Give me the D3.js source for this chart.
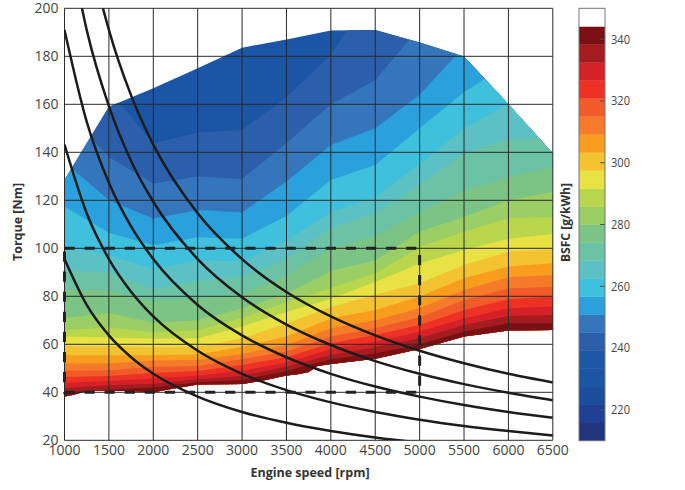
<!DOCTYPE html>
<html>
<head>
<meta charset="utf-8">
<title>BSFC map</title>
<script src="https://cdnjs.cloudflare.com/ajax/libs/d3/7.8.5/d3.min.js"></script>
<style>
  html, body { margin: 0; padding: 0; background: #fff; }
  svg { display: block; }
  .axis-num text { font-family: "Open Sans", sans-serif; font-size: 14px; fill: #444; }
  .bar-num text { font-family: "Open Sans", sans-serif; font-size: 13.5px; fill: #444; }
  .axis-title { font-family: "Open Sans", sans-serif; font-size: 12.5px; font-weight: 700; fill: #333; }
</style>
</head>
<body>
<div id="chart"></div>
<script>
// columns the isolines are read at
var rpmColumns = [1000, 1500, 2000, 2500, 3000, 3500, 4000, 4500, 5000, 5500, 6000, 6500];

// torque at which each colour boundary sits, lowest bsfc first.
// values above the envelope just get clipped away
var iso1 = [200, 166, 143.7, 148.3, 149.3, 163, 180.6, 209, 230, 240, 250, 260];
var iso2 = [158, 138, 127, 129.9, 128.9, 143.8, 160, 170, 192, 215, 235, 250];
var iso3 = [136, 120, 112.4, 116, 115, 127.8, 143, 150, 164, 184, 210, 230];
var iso4 = [117.3, 106.5, 101.3, 104.6, 104, 113.5, 128.5, 134.7, 150, 165, 177, 200];
var iso5 = [101, 97, 91.5, 95, 94.5, 103.3, 115, 121.5, 135, 150, 160, 175];
var iso6 = [91, 90, 83, 86.5, 88, 95.7, 108.5, 114.6, 126.4, 139.6, 145.4, 146];
var iso7 = [83, 82.5, 78.3, 79, 81, 88.7, 100, 105, 115, 124, 129.7, 134];
var iso8 = [71, 73, 69, 70, 75, 81, 90.5, 95, 107, 113, 120, 123.6];
var iso9 = [66, 67, 65, 66, 71, 77.5, 83.5, 89.6, 100.5, 107, 112.5, 113];
var iso10 = [63.3, 62.8, 62.4, 62.5, 67.4, 73.5, 79, 86, 93.7, 99.3, 104, 106];
var iso11 = [59.3, 59.2, 58.9, 59, 62.5, 68.7, 75.5, 80.6, 85.4, 93, 98.6, 99.6];
var iso12 = [55.4, 55.4, 55.4, 55.8, 59, 63.2, 70.8, 74.3, 79.9, 87.5, 92.4, 93.8];
var iso13 = [52, 52, 53.3, 53.5, 56, 59.7, 66.7, 70, 75, 82.6, 87.9, 88.9];
var iso14 = [49, 49.2, 50.6, 51, 53.8, 57, 63.2, 66.7, 71.3, 78.5, 83.3, 84];
var iso15 = [46.4, 46.8, 48, 48.9, 51.4, 54.6, 60.4, 63.9, 68, 74.3, 78.8, 79.9];
var iso16 = [43.9, 44.7, 45.7, 47, 49, 52.4, 57.9, 61, 65.3, 70.8, 75, 75.7];
var iso17 = [41.8, 42.9, 43.6, 45.4, 46.8, 50.7, 55.5, 58.8, 62.5, 68, 71.8, 72.2];
var iso18 = [39.9, 41.2, 42, 44.2, 45.1, 48.9, 53.8, 56.2, 60, 65.3, 68.8, 68.8];
var isolines = [iso1, iso2, iso3, iso4, iso5, iso6, iso7, iso8, iso9, iso10, iso11, iso12, iso13, iso14, iso15, iso16, iso17, iso18];

// colours of the map, one more than there are isolines
var mapColors = ['#1b55a5', '#2b5fab', '#3575bb', '#2aa0dc', '#3fc0dc', '#5cc1c4', '#6cc2a5', '#7cc486',
  '#9bce65', '#b9d64d', '#e8e245', '#f3c332', '#f99d1f', '#f57b2a', '#f15a29', '#ee3124', '#d42027', '#a51c20', '#7a1014'];

// full load and low load edge of the map
var topRpm = [1000, 1500, 2000, 2500, 3000, 3500, 4000, 4500, 5000, 5500, 6000, 6500];
var topTorque = [128.5, 159, 166.7, 175, 183.6, 187, 190.7, 191, 185.8, 179.9, 160, 139.6];
var lowRpm = [6500, 6000, 5500, 5000, 4500, 4000, 3850, 3750, 3625, 3500, 3250, 3000, 2500, 2230, 2000, 1750, 1500, 1250, 1100, 1000];
var lowTorque = [66, 65.7, 63.2, 58, 54, 51.8, 51, 48.5, 47.5, 47, 45, 43.5, 43.3, 41.6, 40, 40.5, 40.8, 40.5, 39, 38.3];

// constant power lines
var curveRpm = [1000, 1250, 1500, 1750, 2000, 2500, 3000, 3500, 4000, 4500, 5000, 5500, 6000, 6500];
var power10 = [95.5, 76.4, 63.7, 54.6, 47.7, 38.2, 31.8, 27.3, 23.9, 21.2, 19.1, 17.4, 15.9, 14.7];
var power15 = [143.2, 114.6, 95.5, 81.9, 71.6, 57.3, 47.7, 40.9, 35.8, 31.8, 28.6, 26, 23.9, 22];
var power20 = [191, 152.8, 127.3, 109.1, 95.5, 76.4, 63.7, 54.6, 47.7, 42.4, 38.2, 34.7, 31.8, 29.4];
var power25 = [238.7, 191, 159.2, 136.4, 119.4, 95.5, 79.6, 68.2, 59.7, 53, 47.7, 43.4, 39.8, 36.7];
var power30 = [286.5, 229.2, 191, 163.7, 143.2, 114.6, 95.5, 81.8, 71.6, 63.7, 57.3, 52.1, 47.7, 44.1];
var powerCurves = [power10, power15, power20, power25, power30];

// dashed box
var boxRpm = [1000, 5000, 5000, 1000, 1000];
var boxTorque = [100, 100, 40, 40, 100];

var xTicks = [1000, 1500, 2000, 2500, 3000, 3500, 4000, 4500, 5000, 5500, 6000, 6500];
var yTicks = [20, 40, 60, 80, 100, 120, 140, 160, 180, 200];
var barTicks = [220, 240, 260, 280, 300, 320, 340];

// colour bar, bottom to top, last band is white
var barColors = ['#23357f', '#1f3f92', '#1c4d9d', '#1a56a4', '#1d58a6', '#2b5fab', '#3575bb', '#2aa0dc', '#3fc0dc',
  '#5cc1c4', '#6cc2a5', '#7cc486', '#9bce65', '#b9d64d', '#e8e245', '#f3c332', '#f99d1f', '#f57b2a', '#f15a29',
  '#ee3124', '#d42027', '#a51c20', '#7a1014', '#ffffff'];

var width = 685, height = 490;

var svg = d3.select('#chart')
  .append('svg')
  .attr('width', width)
  .attr('height', height);

var x = d3.scaleLinear().domain([1000, 6500]).range([64.5, 552.8]);
var y = d3.scaleLinear().domain([20, 200]).range([440.3, 8.3]);

var defs = svg.append('defs');

// envelope of the map
var envelope = topRpm.map(function(d, i){ return [d, topTorque[i]]; })
  .concat(lowRpm.map(function(d, i){ return [d, lowTorque[i]]; }));
var edgeLine = d3.line()
  .x(function(d){ return x(d[0]); })
  .y(function(d){ return y(d[1]); });

defs.append('clipPath').attr('id', 'map-clip')
  .append('path')
  .attr('d', edgeLine(envelope) + 'Z');
defs.append('clipPath').attr('id', 'plot-clip')
  .append('rect')
  .attr('x', x(1000)).attr('y', y(200))
  .attr('width', x(6500) - x(1000)).attr('height', y(20) - y(200));

var map = svg.append('g').attr('clip-path', 'url(#map-clip)');

// paint from the inside out, every band covers everything below its isoline
var bandArea = d3.area()
  .x(function(d, i){ return x(rpmColumns[i]); })
  .y0(y(20))
  .y1(function(d){ return y(d); });

map.append('rect')
  .attr('x', x(1000)).attr('y', y(200))
  .attr('width', x(6500) - x(1000)).attr('height', y(20) - y(200))
  .attr('fill', mapColors[0]);

map.selectAll('.band')
  .data(isolines)
  .enter()
  .append('path')
  .classed('band', true)
  .attr('d', function(d){ return bandArea(d); })
  .attr('fill', function(d, i){ return mapColors[i + 1]; });

// axes, long ticks are the grid
var xAxis = d3.axisBottom(x)
  .tickValues(xTicks)
  .tickFormat(d3.format('d'))
  .tickSize(y(200) - y(20))
  .tickPadding(5)
  .offset(0);
var yAxis = d3.axisLeft(y)
  .tickValues(yTicks)
  .tickSize(x(1000) - x(6500))
  .tickPadding(6)
  .offset(0);

var gx = svg.append('g')
  .attr('class', 'axis-num')
  .attr('transform', 'translate(0,' + y(20) + ')')
  .call(xAxis);
gx.selectAll('line').attr('stroke', '#2a2a2a').attr('stroke-width', 1);
gx.selectAll('text').attr('y', 5);
gx.select('.domain').remove();

var gy = svg.append('g')
  .attr('class', 'axis-num')
  .attr('transform', 'translate(' + x(1000) + ',0)')
  .call(yAxis);
gy.selectAll('line').attr('stroke', '#2a2a2a').attr('stroke-width', 1);
gy.select('.domain').remove();

// power lines
var powerLine = d3.line()
  .x(function(d, i){ return x(curveRpm[i]); })
  .y(function(d){ return y(d); })
  .curve(d3.curveMonotoneX);

svg.append('g')
  .attr('clip-path', 'url(#plot-clip)')
  .selectAll('.power')
  .data(powerCurves)
  .enter()
  .append('path')
  .classed('power', true)
  .attr('d', function(d){ return powerLine(d); })
  .attr('fill', 'none')
  .attr('stroke', '#1c1c1c')
  .attr('stroke-width', 2.5);

// dashed load box
svg.append('path')
  .datum(boxRpm.map(function(d, i){ return [d, boxTorque[i]]; }))
  .attr('d', edgeLine)
  .attr('fill', 'none')
  .attr('stroke', '#222')
  .attr('stroke-width', 3)
  .attr('stroke-dasharray', '10.2,9.9');

// axis titles
svg.append('text')
  .attr('class', 'axis-title')
  .attr('x', 310).attr('y', 477)
  .attr('text-anchor', 'middle')
  .text('Engine speed [rpm]');
svg.append('text')
  .attr('class', 'axis-title')
  .attr('transform', 'translate(22,222) rotate(-90)')
  .attr('text-anchor', 'middle')
  .text('Torque [Nm]');

// colour bar
var barX = 579, barWidth = 26;
var barScale = d3.scaleLinear().domain([210, 350]).range([440.7, 8.3]);
var barStep = (350 - 210) / barColors.length;

svg.append('g')
  .selectAll('rect')
  .data(barColors)
  .enter()
  .append('rect')
  .attr('x', barX)
  .attr('width', barWidth)
  .attr('y', function(d, i){ return barScale(210 + (i + 1) * barStep); })
  .attr('height', function(){ return barScale(210) - barScale(210 + barStep) + 0.3; })
  .attr('fill', function(d){ return d; });

svg.append('rect')
  .attr('x', barX).attr('y', barScale(350))
  .attr('width', barWidth).attr('height', barScale(210) - barScale(350))
  .attr('fill', 'none')
  .attr('stroke', '#777')
  .attr('stroke-width', 1);

var barAxis = d3.axisRight(barScale)
  .tickValues(barTicks)
  .tickSize(-5)
  .tickPadding(6)
  .offset(0);

var gbar = svg.append('g')
  .attr('class', 'bar-num')
  .attr('transform', 'translate(' + (barX + barWidth) + ',0)')
  .call(barAxis);
gbar.select('.domain').remove();
gbar.selectAll('line').attr('stroke', '#555');
// the labels are condensed in the picture, no narrow font here so squeeze them
gbar.selectAll('text')
  .attr('textLength', 19)
  .attr('lengthAdjust', 'spacingAndGlyphs');

svg.append('text')
  .attr('transform', 'translate(570,222.5) rotate(-90)')
  .attr('text-anchor', 'middle')
  .attr('textLength', 79)
  .attr('lengthAdjust', 'spacingAndGlyphs')
  .style('font-family', '"Open Sans", sans-serif')
  .style('font-size', '13px')
  .style('font-weight', 700)
  .style('fill', '#333')
  .text('BSFC [g/kWh]');
</script>
</body>
</html>
